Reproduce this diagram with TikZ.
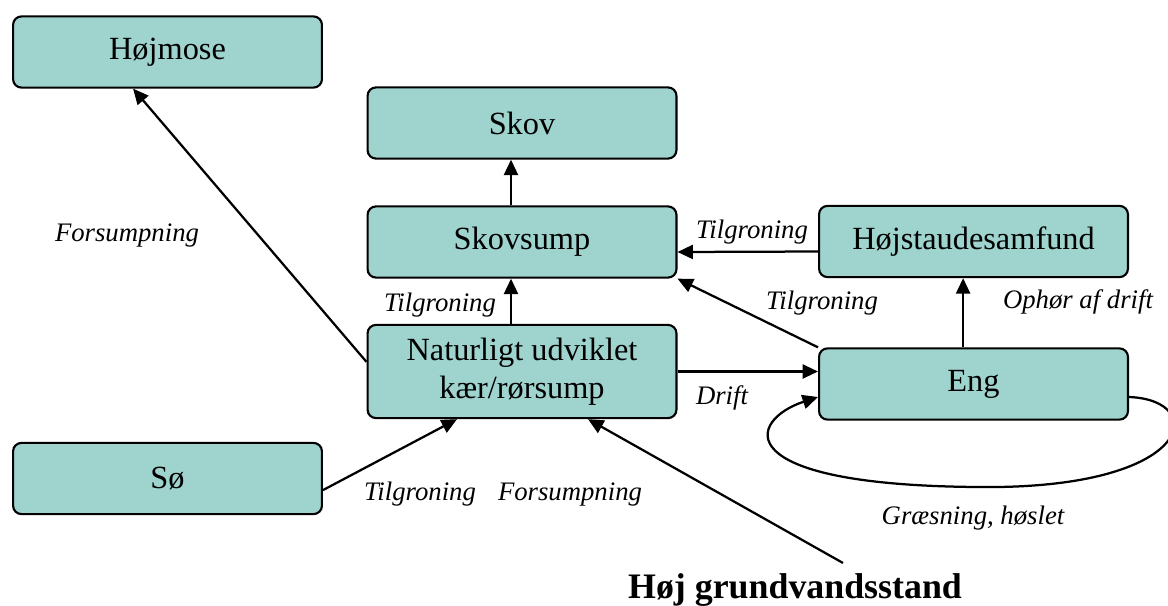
\documentclass[tikz,border=0pt]{standalone}
\usepackage{fontspec}
\setmainfont{Liberation Serif}
\usetikzlibrary{arrows.meta}
\definecolor{boxfill}{RGB}{158,211,206}

\begin{document}
\begin{tikzpicture}[x=0.025cm, y=-0.025cm,
    box/.style={draw, line width=1.5pt, rounded corners=6pt, minimum width=7.72cm, minimum height=1.78cm,
      inner sep=0pt, align=center, font=\fontsize{23}{27}\selectfont, fill=boxfill},
    lbl/.style={font=\itshape\fontsize{19}{23}\selectfont},
    arr/.style={-{Triangle[length=11pt,width=10pt]}, line width=1.6pt}]
    \useasboundingbox (0,0) rectangle (1168,605);
    \node[box] (hoejmose) at (167.5,52) {Højmose};
    \node[box] (skov) at (522,123) {Skov};
    \node[box] (skovsump) at (522,242) {Skovsump};
    \node[box, minimum height=2.33cm] (natur) at (522,371.5) {Naturligt udviklet\\kær/rørsump};
    \node[box] (hoejstaude) at (973.5,241.5) {Højstaudesamfund};
    \node[box] (eng) at (973.5,384) {Eng};
    \node[box] (soe) at (167.5,478.5) {Sø};
    \node[font=\bfseries\fontsize{25.5}{30}\selectfont] (grundvand) at (795,590) {Høj grundvandsstand};
    \coordinate (gvend) at (843,563);
    % transitions
    \draw[arr] ([xshift=-0.275cm]natur.north) -- ([xshift=-0.275cm]skovsump.south);
    \draw[arr] ([xshift=-0.275cm]skovsump.north) -- ([xshift=-0.275cm]skov.south);
    \draw[arr] ([yshift=-0.25cm]hoejstaude.west) -- ([yshift=-0.25cm]skovsump.east);
    \draw[arr] ([xshift=-0.26cm]eng.north) -- ([xshift=-0.26cm]hoejstaude.south);
    \draw[arr] (eng.north west) -- (skovsump.south east);
    \draw[arr] (natur.east) -- (natur.east -| eng.west);
    \draw[arr] ([yshift=-0.29cm]soe.east) -- ([xshift=-1.625cm]natur.south);
    \draw[arr] (gvend) -- ([xshift=1.65cm]natur.south);
    \draw[arr] ([yshift=0.24cm]natur.west) -- ([xshift=-0.86cm]hoejmose.south);
    \draw[arr] ([yshift=-0.325cm]eng.east) .. controls (1210,400) and (1195,490) .. (977,487)
      .. controls (725,485) and (748,420) .. ([yshift=-0.325cm]eng.west);
    % labels
    \node[lbl] (l1) at (440,305) {Tilgroning};
    \node[lbl] (l2) at (752,232) {Tilgroning};
    \node[lbl] (l3) at (822,303) {Tilgroning};
    \node[lbl] (l4) at (1078,302) {Ophør af drift};
    \node[lbl] (l5) at (722,398) {Drift};
    \node[lbl] (l6) at (420,494) {Tilgroning};
    \node[lbl] (l7) at (570,494) {Forsumpning};
    \node[lbl] (l8) at (127,235) {Forsumpning};
    \node[lbl] (l9) at (973,518) {Græsning, høslet};
  \end{tikzpicture}
\end{document}
